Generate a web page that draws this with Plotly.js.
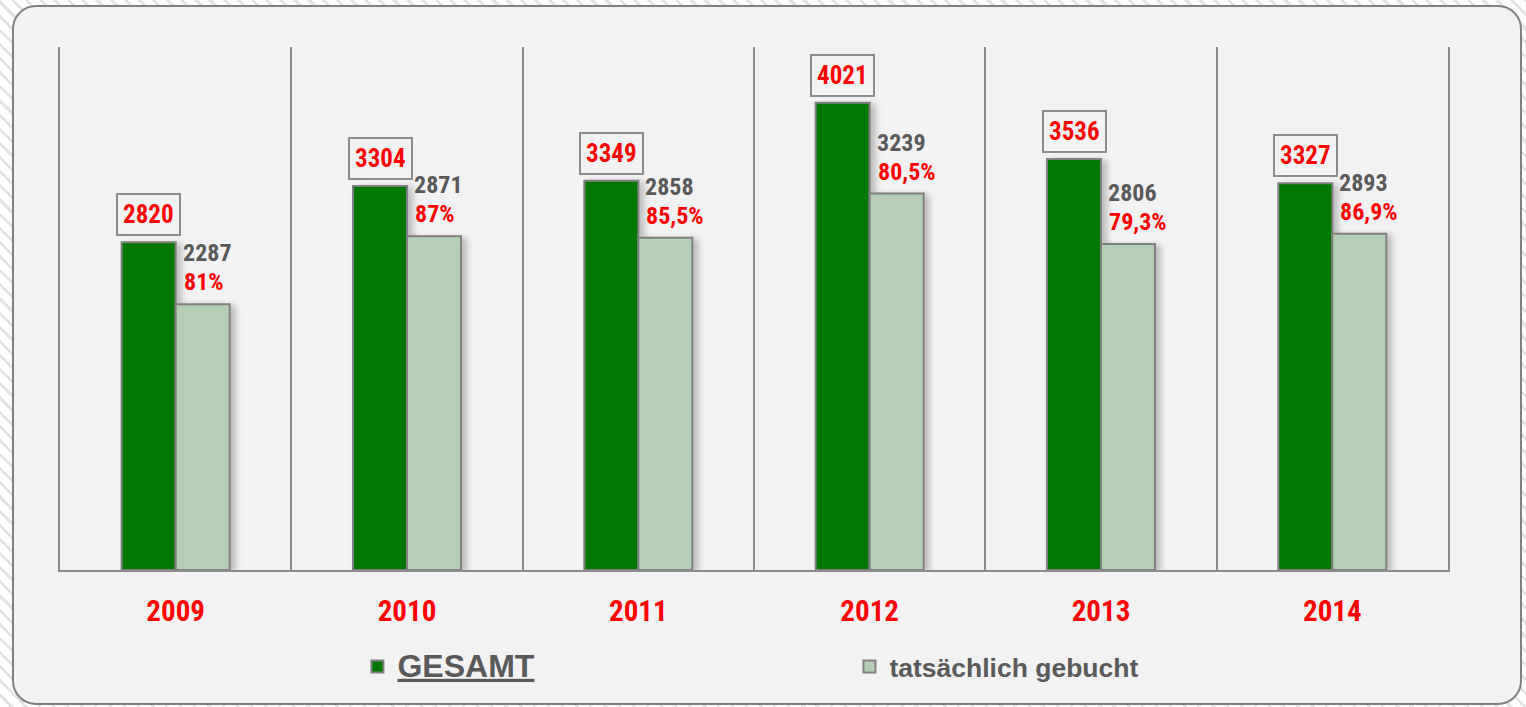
<!DOCTYPE html>
<html>
<head>
<meta charset="utf-8">
<script src="https://cdn.plot.ly/plotly-3.0.1.min.js"></script>
<style>
  html, body { margin: 0; padding: 0; }
  body {
    width: 1526px; height: 707px; overflow: hidden; position: relative;
    background: repeating-linear-gradient(45deg, #ffffff 0px, #ffffff 7px, #e4e4e4 7px, #e4e4e4 10px);
  }
  #panel {
    position: absolute; left: 12px; top: 5px; width: 1510px; height: 700px;
    background: #f2f2f2; border: 2px solid #808080; border-radius: 24px;
    box-sizing: border-box;
  }
  #chart { position: absolute; left: 0; top: 0; width: 1526px; height: 707px; }
  #chart .barlayer .point path { filter: drop-shadow(5px 2px 3px rgba(0,0,0,0.22)); }
</style>
</head>
<body>
<div id="panel"></div>
<div id="chart"></div>
<script>
// ---- data ----
const years = ['2009', '2010', '2011', '2012', '2013', '2014'];
const gesamt = [2820, 3304, 3349, 4021, 3536, 3327];
const gebucht = [2287, 2871, 2858, 3239, 2806, 2893];
const quote = ['81%', '87%', '85,5%', '80,5%', '79,3%', '86,9%'];
const seriesNames = ['GESAMT', 'tatsächlich gebucht'];

const narrow = 'Roboto Condensed, DejaVu Sans Condensed, sans-serif';
const sans = 'Liberation Sans, Arial, sans-serif';
const red = '#ff0000';
const grey = '#595959';

const traces = [
  {
    type: 'bar', name: '<span style="font-size:32px;text-decoration:underline">' + seriesNames[0] + '</span>',
    x: years, y: gesamt,
    marker: { color: '#007800', line: { color: '#808080', width: 2 } }
  },
  {
    type: 'bar', name: seriesNames[1],
    x: years, y: gebucht,
    marker: { color: '#b4cfb4', line: { color: '#808080', width: 2 } }
  }
];

// annotations are placed by category index (numeric-looking category names are ambiguous)
const annotations = [];
years.forEach((yr, i) => {
  annotations.push({
    x: i, y: gesamt[i], xref: 'x', yref: 'y',
    text: String(gesamt[i]), showarrow: false,
    xanchor: 'center', yanchor: 'bottom', xshift: -27, yshift: 6,
    font: { family: narrow, size: 25, color: red, weight: 700 },
    bordercolor: '#8c8c8c', borderwidth: 2, borderpad: 5, bgcolor: '#f2f2f2'
  });
  annotations.push({
    x: i, y: gebucht[i], xref: 'x', yref: 'y',
    text: String(gebucht[i]), showarrow: false,
    xanchor: 'left', yanchor: 'middle', xshift: 5, yshift: 51,
    font: { family: narrow, size: 24, color: grey, weight: 700 }
  });
  annotations.push({
    x: i, y: gebucht[i], xref: 'x', yref: 'y',
    text: quote[i], showarrow: false,
    xanchor: 'left', yanchor: 'middle', xshift: 6, yshift: 22,
    font: { family: narrow, size: 24, color: red, weight: 700 }
  });
});

const layout = {
  width: 1526, height: 707,
  margin: { l: 60, r: 78, t: 47, b: 137 },
  paper_bgcolor: 'rgba(0,0,0,0)',
  plot_bgcolor: 'rgba(0,0,0,0)',
  barmode: 'group', bargap: 0.533, bargroupgap: 0,
  showlegend: true,
  legend: {
    orientation: 'h', x: 0.2143, y: -0.185, xanchor: 'left', yanchor: 'middle',
    entrywidth: 447, entrywidthmode: 'pixels',
    font: { family: sans, size: 26.5, color: grey, weight: 700 },
    bgcolor: 'rgba(0,0,0,0)', traceorder: 'normal'
  },
  xaxis: {
    type: 'category', range: [-0.5, 5.5],
    tickson: 'boundaries', ticks: '',
    showgrid: true, gridcolor: '#8c8c8c', gridwidth: 2,
    showline: true, linecolor: '#8c8c8c', linewidth: 2,
    tickfont: { family: narrow, size: 29, color: red, weight: 700 },
    ticklabelstandoff: 14,
    zeroline: false, fixedrange: true
  },
  yaxis: {
    range: [0, 4500], showticklabels: false, ticks: '',
    showgrid: false, zeroline: false,
    showline: true, mirror: true, linecolor: '#8c8c8c', linewidth: 2,
    fixedrange: true
  },
  annotations: annotations
};

Plotly.newPlot('chart', traces, layout, { displayModeBar: false });
</script>
</body>
</html>
